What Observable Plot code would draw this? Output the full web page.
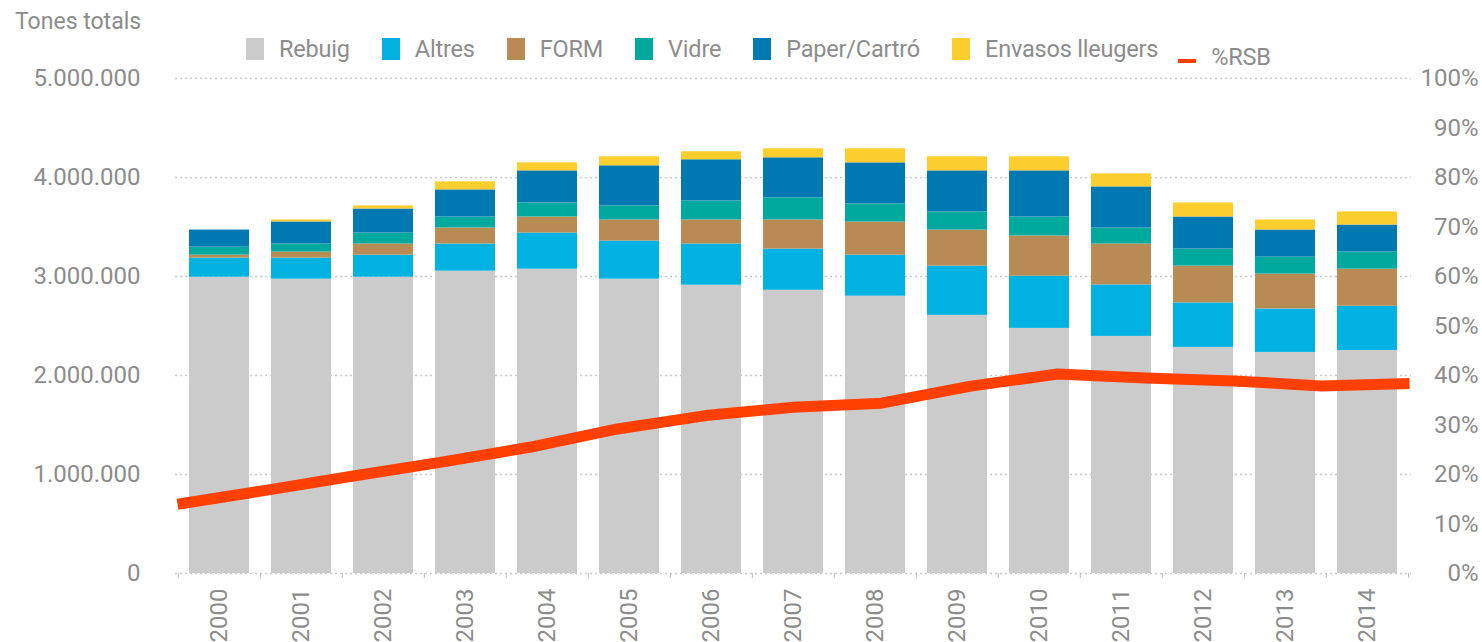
<!DOCTYPE html>
<html>
<head>
<meta charset="utf-8">
<script src="https://cdn.jsdelivr.net/npm/d3@7"></script>
<script src="https://cdn.jsdelivr.net/npm/@observablehq/plot@0.6"></script>
<style>
  body { margin: 0; background: #fff; }
  #wrap { position: relative; width: 1482px; height: 642px; overflow: hidden;
          font-family: 'Roboto', sans-serif; color: #8c8c8c; }
  #wrap svg { position: absolute; left: 0; top: 0; }
  .title { position: absolute; left: 15px; top: 8px; font-size: 23px; white-space: nowrap; }
  .legend { position: absolute; left: 246px; top: 35px; display: flex; align-items: center; font-size: 23.5px; letter-spacing: -0.2px; white-space: nowrap; }
  .item { display: flex; align-items: center; margin-right: 32px; }
  .sw { width: 18px; height: 22px; margin-right: 15px; }
  .ln { width: 18px; height: 4px; margin-right: 15px; margin-top: 8px; }
  .item.rsb { position: relative; top: 8px; margin-left: -12px; }
</style>
</head>
<body>
<div id="wrap">
  <div class="title">Tones totals</div>
  <div class="legend" id="legend"></div>
</div>
<script>
// ---- data (tonnes) ----
const years   = [2000, 2001, 2002, 2003, 2004, 2005, 2006, 2007, 2008, 2009, 2010, 2011, 2012, 2013, 2014];
const rebuig  = [2993000, 2973000, 2993000, 3054000, 3074000, 2973000, 2912000, 2861000, 2801000, 2608000, 2476000, 2395000, 2284000, 2233000, 2253000];
const altres  = [193000, 213000, 223000, 274000, 365000, 385000, 416000, 416000, 415000, 497000, 527000, 520000, 449000, 439000, 446000];
const form    = [30000, 61000, 112000, 162000, 162000, 213000, 243000, 294000, 334000, 364000, 406000, 413000, 372000, 352000, 375000];
const vidre   = [81000, 81000, 111000, 111000, 142000, 142000, 192000, 223000, 183000, 183000, 192000, 162000, 172000, 172000, 173000];
const paper   = [172000, 223000, 243000, 274000, 324000, 405000, 416000, 405000, 415000, 415000, 466000, 415000, 324000, 274000, 273000];
const envasos = [0, 20000, 31000, 81000, 81000, 91000, 81000, 91000, 142000, 142000, 142000, 132000, 142000, 101000, 132000];
const rsb     = [14.0, 16.8, 19.7, 22.5, 25.5, 29.2, 31.9, 33.6, 34.4, 37.8, 40.3, 39.5, 38.9, 37.9, 38.4];
const categories = ["Rebuig", "Altres", "FORM", "Vidre", "Paper/Cartró", "Envasos lleugers"];
const colors     = ["#cbcbcb", "#00b2e2", "#b98b54", "#00a99d", "#0079b3", "#fbcd2d"];
const lineLabel = "%RSB";
const lineColor = "#ff4000";
const leftTicks  = [0, 1000000, 2000000, 3000000, 4000000, 5000000];
const rightTicks = [0, 10, 20, 30, 40, 50, 60, 70, 80, 90, 100];

// ---- layout ----
const W = 1482, H = 642, ML = 175, MR = 71, MT = 78, MB = 69;
const FONT = "'Roboto', sans-serif";
const TXT = "#8c8c8c";
const series = [rebuig, altres, form, vidre, paper, envasos];
const rows = years.flatMap((y, i) => categories.map((c, j) => ({year: String(y), cat: c, value: series[j][i]})));
const step = (W - ML - MR) / years.length;
const fmt = d3.formatLocale({decimal: ",", thousands: ".", grouping: [3], currency: ["", ""]}).format(",");

const bars = Plot.plot({
  width: W, height: H, marginLeft: ML, marginRight: MR, marginTop: MT, marginBottom: MB,
  style: {fontFamily: FONT, fontSize: "24px", color: TXT, background: "transparent", overflow: "visible"},
  x: {type: "band", domain: years.map(String), paddingInner: 0.27, paddingOuter: 0.135},
  y: {domain: [0, 5000000]},
  color: {domain: categories, range: colors},
  marks: [
    Plot.ruleY(leftTicks, {stroke: "#c9c9c9", strokeWidth: 1.5, strokeDasharray: "2,3"}),
    Plot.barY(rows, {x: "year", y: "value", fill: "cat", order: categories}),
    Plot.ruleX(years.map(String), {x: d => d, y1: 0, y2: 0, insetBottom: -5, dx: -step / 2, stroke: "#bdbdbd"}),
    Plot.ruleX(years.slice(-1).map(String), {x: d => d, y1: 0, y2: 0, insetBottom: -5, dx: step / 2, stroke: "#bdbdbd"}),
    Plot.axisY({ticks: leftTicks, tickSize: 0, tickPadding: 35, tickFormat: fmt, fill: TXT, label: null}),
    Plot.axisX({tickSize: 0, tickPadding: 15, tickRotate: -90, fill: TXT, label: null})
  ]
});

const lineData = years.map((y, i) => ({year: String(y), v: rsb[i]}));
const line = Plot.plot({
  width: W, height: H, marginLeft: ML, marginRight: MR, marginTop: MT, marginBottom: MB,
  style: {fontFamily: FONT, fontSize: "24px", color: TXT, background: "transparent", overflow: "visible"},
  x: {type: "point", domain: years.map(String), padding: 0, axis: null},
  y: {domain: [0, 100]},
  marks: [
    Plot.line(lineData, {x: "year", y: "v", stroke: lineColor, strokeWidth: 11, strokeLinecap: "butt", strokeLinejoin: "round"}),
    Plot.axisY({anchor: "right", ticks: rightTicks, tickSize: 0, tickPadding: 67, textAnchor: "end", tickFormat: d => d + "%", fill: TXT, label: null})
  ]
});

const wrap = document.getElementById("wrap");
wrap.prepend(line);
wrap.prepend(bars);

// legend
const legend = document.getElementById("legend");
categories.forEach((c, i) => {
  const it = document.createElement("div");
  it.className = "item";
  it.innerHTML = `<div class="sw" style="background:${colors[i]}"></div><span>${c}</span>`;
  legend.appendChild(it);
});
const it = document.createElement("div");
it.className = "item rsb";
it.innerHTML = `<div class="ln" style="background:${lineColor}"></div><span>${lineLabel}</span>`;
legend.appendChild(it);
</script>
</body>
</html>
